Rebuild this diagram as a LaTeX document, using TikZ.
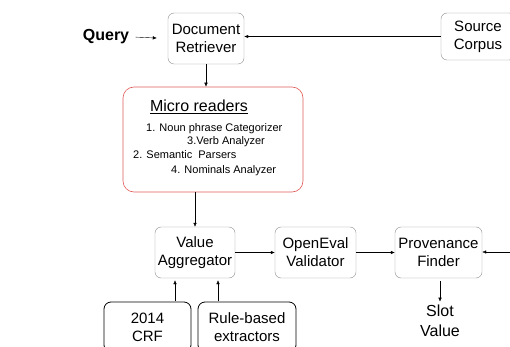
\documentclass[tikz,border=0pt]{standalone}
\usepackage{fontspec}
\setmainfont{Liberation Sans}
\usepackage{xcolor}
\usetikzlibrary{arrows.meta, positioning}

\definecolor{boxgray}{HTML}{8C8C8C}
\definecolor{readerred}{HTML}{E05A5A}

\begin{document}
\begin{tikzpicture}[x=1pt, y=-1pt,
  box/.style={draw=boxgray, rounded corners=6pt, align=center, inner sep=0pt,
    font=\fontsize{15}{18}\selectfont},
  extractor/.style={draw=black, thick, rounded corners=7pt, align=center, inner sep=0pt,
    minimum width=87pt, minimum height=50pt, font=\fontsize{15}{18}\selectfont},
  item/.style={anchor=base west, inner sep=0pt, font=\fontsize{11}{13}\selectfont},
  flow/.style={-{Latex[length=4pt, width=3.5pt]}}]
\useasboundingbox (0,0) rectangle (510,347);

% top row
\node[font=\fontsize{16}{19}\selectfont\bfseries] (query) at (106,37) {Query};
\node[box, minimum width=76pt, minimum height=51pt] (retriever) at (206,38.5) {Document\\Retriever};
\node[box, minimum width=74pt, minimum height=47pt] (corpus) at (478,36.5) {Source\\Corpus};

% micro readers
\node[draw=readerred, semithick, rounded corners=11pt, minimum width=180pt, minimum height=105pt] (micro) at (213,139.5) {};
\node[anchor=base, inner sep=0pt, font=\fontsize{16}{19}\selectfont] (title) at (199,112) {\underline{Micro readers}};
\node[item] (noun) at (146,132) {1. Noun phrase Categorizer};
\node[item] (verb) at (187,145) {3.Verb Analyzer};
\node[item] (sem) at (133,159) {2. Semantic\ \ Parsers};
\node[item] (nom) at (171,174) {4. Nominals Analyzer};

% middle row
\node[box, minimum width=80pt, minimum height=51pt] (agg) at (195,252.5) {Value\\Aggregator};
\node[box, minimum width=81pt, minimum height=51pt] (openeval) at (315.5,252.5) {OpenEval\\Validator};
\node[box, minimum width=87pt, minimum height=51pt] (prov) at (438.5,252.5) {Provenance\\Finder};
\node[align=center, font=\fontsize{16}{20}\selectfont] (slot) at (440,321) {Slot\\Value};
\coordinate (provin) at (512,252);

% bottom row
\node[extractor] (crf) at (147.5,327) {2014\\CRF};
\node[extractor, minimum width=98pt] (rule) at (247,327) {Rule-based\\extractors};

% connectors
\draw[flow, shorten <=3pt, shorten >=11pt] (query.east) -- (retriever.west);
\draw[flow] (corpus.west) -- (corpus.west -| retriever.east);
\draw[flow] (retriever.south) -- (retriever.south |- micro.north);
\draw[flow] (micro.south -| agg.north) -- (agg.north);
\draw[flow] (agg.east) -- (openeval.west);
\draw[flow] (openeval.east) -- (prov.west);
\draw[flow] (provin) -- (provin -| prov.east);
\draw[flow, shorten <=3pt] ([xshift=1.5pt]prov.south) -- ([xshift=1.5pt]prov.south |- slot.north);
\draw[flow, shorten <=1pt, shorten >=2pt] ([xshift=-20pt]agg.south |- crf.north) -- ([xshift=-20pt]agg.south);
\draw[flow, shorten <=1pt, shorten >=2pt] ([xshift=23pt]agg.south |- rule.north) -- ([xshift=23pt]agg.south);
\end{tikzpicture}
\end{document}
